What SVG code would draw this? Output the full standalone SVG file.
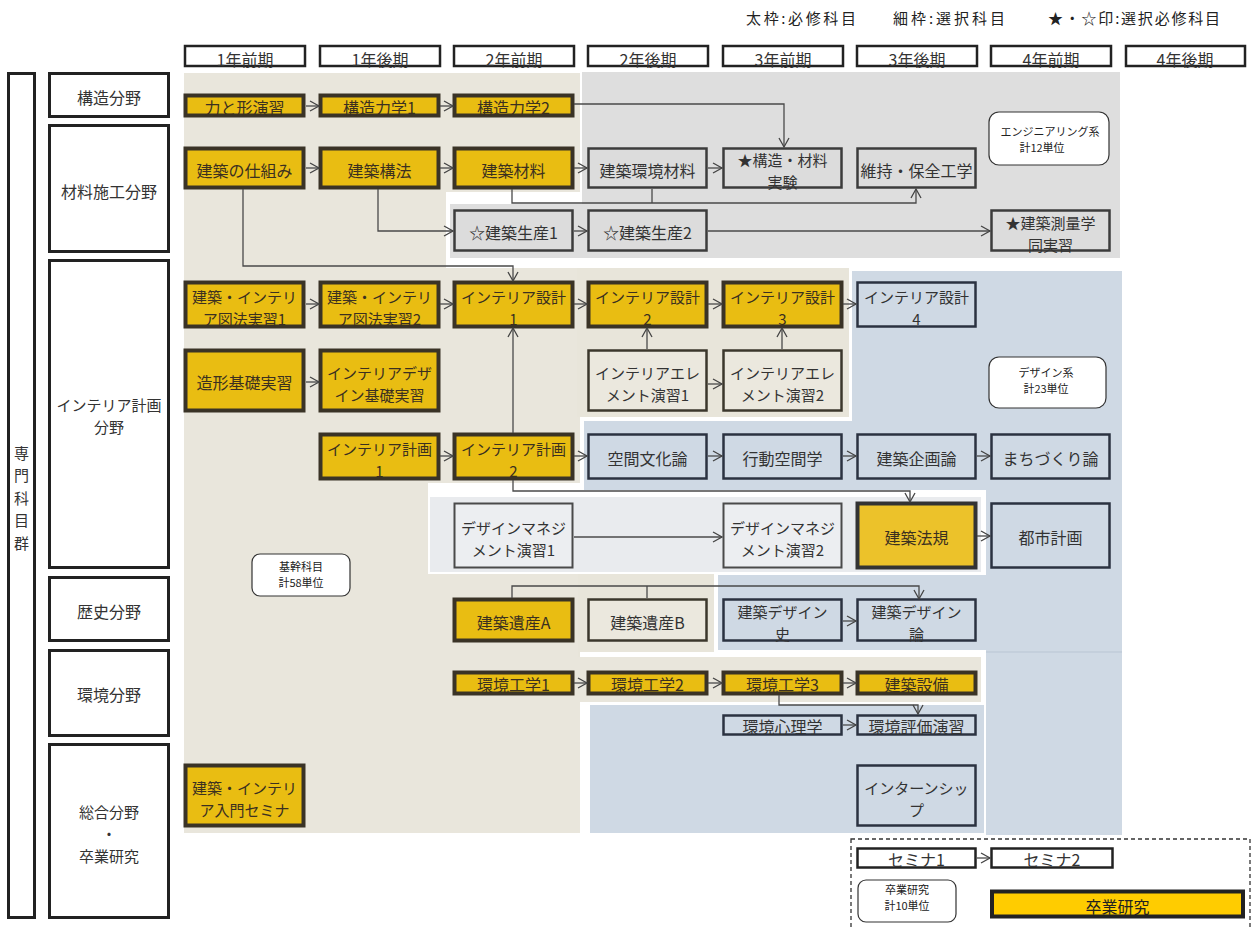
<svg xmlns="http://www.w3.org/2000/svg" width="1253" height="928" viewBox="0 0 1253 928">
<defs>
<style>
text{font-family:"Noto Sans CJK JP","Noto Sans CJK SC",sans-serif;font-size:16px;fill:#333;text-anchor:middle;dominant-baseline:central}
.t2{font-size:15px}
.ty{fill:#3b3020}
.sm{font-size:11px;fill:#222}
.lg{font-size:15px;text-anchor:start;fill:#222}
.v{font-size:15px}
.y{fill:#e9bd12;stroke:#3a3326;stroke-width:4}
.yl{fill:#ecc22a;stroke:#333;stroke-width:4}
.yf{fill:#ffcc00;stroke:#222;stroke-width:4}
.g{fill:#dcdcdc;stroke:#3c3c3c;stroke-width:2.5}
.b{fill:#cfd9e4;stroke:#2b3240;stroke-width:2.5}
.e{fill:#ebe8de;stroke:#3b372c;stroke-width:2.5}
.m{fill:#eceef1;stroke:#4a4a4a;stroke-width:2}
.w{fill:#fff;stroke:#222;stroke-width:2.5}
.cat{fill:#fff;stroke:#222;stroke-width:3}
.note{fill:#fff;stroke:#333;stroke-width:1.2}
.c{fill:none;stroke:#4a4a4a;stroke-width:1.3}
</style>
<marker id="ah" markerWidth="12" markerHeight="12" refX="10" refY="6" orient="auto" markerUnits="userSpaceOnUse">
<path d="M1,1 L10,6 L1,11" fill="none" stroke="#444" stroke-width="1.3"/>
</marker>
</defs>

<g id="backgrounds">
<rect x="184" y="73" width="396" height="760" fill="#e9e6dc"/>
<rect x="446" y="192" width="136" height="76" fill="#fff"/>
<path d="M582,72 H1120 V258 H450 V204 H582 Z" fill="#dedede"/>
<rect x="577" y="268" width="272" height="149" fill="#e8e5da"/>
<rect x="852" y="271" width="270" height="150" fill="#cfd9e4"/>
<rect x="428" y="483" width="558" height="91" fill="#fff"/>
<rect x="584" y="421" width="538" height="69" fill="#cfd9e4"/>
<rect x="986" y="490" width="136" height="345" fill="#cfd9e4"/>
<rect x="430" y="497" width="551" height="75" fill="#e9ebee"/>
<rect x="578" y="574" width="136" height="83" fill="#e8e5da"/>
<rect x="718" y="575" width="269" height="75" fill="#cfd9e4"/>
<rect x="580" y="652" width="406" height="53" fill="#fff"/>
<rect x="580" y="657" width="401" height="45" fill="#e9e6dc"/>
<rect x="590" y="705" width="394" height="128" fill="#cfd9e4"/>
<line x1="986" y1="652" x2="1122" y2="652" stroke="#b9c5d3" stroke-width="1"/>
</g>

<g id="legend">
<text class="lg" x="746" y="17" textLength="110" lengthAdjust="spacing">太枠:必修科目</text>
<text class="lg" x="893" y="17" textLength="112" lengthAdjust="spacing">細枠:選択科目</text>
<text class="lg" x="1048" y="17" textLength="172" lengthAdjust="spacing">★・☆印:選択必修科目</text>
</g>

<g id="headers">
<rect class="w" x="185" y="46" width="120" height="20"/><text x="245" y="59">1年前期</text>
<rect class="w" x="320" y="46" width="120" height="20"/><text x="380" y="59">1年後期</text>
<rect class="w" x="454" y="46" width="120" height="20"/><text x="514" y="59">2年前期</text>
<rect class="w" x="588" y="46" width="120" height="20"/><text x="648" y="59">2年後期</text>
<rect class="w" x="723" y="46" width="120" height="20"/><text x="783" y="59">3年前期</text>
<rect class="w" x="857" y="46" width="120" height="20"/><text x="917" y="59">3年後期</text>
<rect class="w" x="991" y="46" width="120" height="20"/><text x="1051" y="59">4年前期</text>
<rect class="w" x="1126" y="46" width="119" height="20"/><text x="1185" y="59">4年後期</text>
</g>

<g id="group-senmon">
<rect class="cat" x="8.5" y="73.5" width="26" height="844"/>
<text class="v" x="21.5" y="452">専</text>
<text class="v" x="21.5" y="474.5">門</text>
<text class="v" x="21.5" y="497">科</text>
<text class="v" x="21.5" y="519.5">目</text>
<text class="v" x="21.5" y="542">群</text>
</g>
<g id="cat-kouzou"><rect class="cat" x="49.5" y="73.5" width="119" height="43"/><text x="109" y="97">構造分野</text></g>
<g id="cat-zairyou"><rect class="cat" x="49.5" y="125.5" width="119" height="126"/><text x="109" y="191">材料施工分野</text></g>
<g id="cat-interior"><rect class="cat" x="49.5" y="260.5" width="119" height="307"/><text class="t2" x="109" y="404">インテリア計画</text><text class="t2" x="109" y="426">分野</text></g>
<g id="cat-rekishi"><rect class="cat" x="49.5" y="577.5" width="119" height="63"/><text x="109" y="611">歴史分野</text></g>
<g id="cat-kankyou"><rect class="cat" x="49.5" y="650.5" width="119" height="85"/><text x="109" y="694">環境分野</text></g>
<g id="cat-sougou"><rect class="cat" x="49.5" y="744.5" width="119" height="173"/><text class="t2" x="109" y="811">総合分野</text><text class="t2" x="109" y="833">・</text><text class="t2" x="109" y="855">卒業研究</text></g>

<g id="notes">
<g id="note-eng"><rect class="note" x="989" y="112" width="120" height="53" rx="10"/><text class="sm" x="1050" y="131">エンジニアリング系</text><text class="sm" x="1042" y="147">計12単位</text></g>
<g id="note-design"><rect class="note" x="989" y="357" width="117" height="51" rx="10"/><text class="sm" x="1046" y="372">デザイン系</text><text class="sm" x="1046" y="388">計23単位</text></g>
<g id="note-kikan"><rect class="note" x="252" y="554" width="98" height="42" rx="8"/><text class="sm" x="301" y="566">基幹科目</text><text class="sm" x="301" y="582">計58単位</text></g>
<g id="note-sotsu"><rect class="note" x="858" y="880" width="98" height="42" rx="8"/><text class="sm" x="907" y="889">卒業研究</text><text class="sm" x="907" y="905">計10単位</text></g>
</g>

<g id="n-chikara"><rect class="y" x="185.5" y="95.5" width="118" height="20"/><text class="ty" x="244.5" y="107">力と形演習</text></g>
<g id="n-kouzou1"><rect class="y" x="320.5" y="95.5" width="118" height="20"/><text class="ty" x="379.5" y="107">構造力学1</text></g>
<g id="n-kouzou2"><rect class="y" x="454.5" y="95.5" width="118" height="20"/><text class="ty" x="513.5" y="107">構造力学2</text></g>

<g id="n-shikumi"><rect class="y" x="185.5" y="148.5" width="118" height="39"/><text class="ty" x="244.5" y="170">建築の仕組み</text></g>
<g id="n-kouhou"><rect class="y" x="320.5" y="148.5" width="118" height="39"/><text class="ty" x="379.5" y="170">建築構法</text></g>
<g id="n-zairyou"><rect class="y" x="454.5" y="148.5" width="118" height="39"/><text class="ty" x="513.5" y="170">建築材料</text></g>
<g id="n-kankyouzai"><rect class="g" x="588.5" y="148.5" width="118" height="39"/><text x="647.5" y="170">建築環境材料</text></g>
<g id="n-jikken"><rect class="g" x="723.5" y="148.5" width="118" height="39"/><text class="t2" x="782.5" y="159">★構造・材料</text><text class="t2" x="782.5" y="181">実験</text></g>
<g id="n-iji"><rect class="g" x="857.5" y="148.5" width="118" height="39"/><text x="916.5" y="170">維持・保全工学</text></g>

<g id="n-seisan1"><rect class="g" x="454.5" y="210.5" width="118" height="40"/><text x="513.5" y="232">☆建築生産1</text></g>
<g id="n-seisan2"><rect class="g" x="588.5" y="210.5" width="118" height="40"/><text x="647.5" y="232">☆建築生産2</text></g>
<g id="n-sokuryou"><rect class="g" x="991.5" y="210.5" width="118" height="40"/><text class="t2" x="1050.5" y="222">★建築測量学</text><text class="t2" x="1050.5" y="244">同実習</text></g>

<g id="n-zuhou1"><rect class="y" x="185.5" y="282.5" width="118" height="44"/><text class="ty t2" x="244.5" y="296">建築・インテリ</text><text class="ty t2" x="244.5" y="318">ア図法実習1</text></g>
<g id="n-zuhou2"><rect class="y" x="320.5" y="282.5" width="118" height="44"/><text class="ty t2" x="379.5" y="296">建築・インテリ</text><text class="ty t2" x="379.5" y="318">ア図法実習2</text></g>
<g id="n-sekkei1"><rect class="y" x="454.5" y="282.5" width="118" height="44"/><text class="ty t2" x="513.5" y="296">インテリア設計</text><text class="ty t2" x="513.5" y="318">1</text></g>
<g id="n-sekkei2"><rect class="y" x="588.5" y="282.5" width="118" height="44"/><text class="ty t2" x="647.5" y="296">インテリア設計</text><text class="ty t2" x="647.5" y="318">2</text></g>
<g id="n-sekkei3"><rect class="y" x="723.5" y="282.5" width="118" height="44"/><text class="ty t2" x="782.5" y="296">インテリア設計</text><text class="ty t2" x="782.5" y="318">3</text></g>
<g id="n-sekkei4"><rect class="b" x="857.5" y="282.5" width="118" height="44"/><text class="t2" x="916.5" y="296">インテリア設計</text><text class="t2" x="916.5" y="318">4</text></g>

<g id="n-zoukei"><rect class="y" x="185.5" y="350.5" width="118" height="60"/><text class="ty" x="244.5" y="382">造形基礎実習</text></g>
<g id="n-idkiso"><rect class="y" x="320.5" y="350.5" width="118" height="60"/><text class="ty t2" x="379.5" y="372">インテリアデザ</text><text class="ty t2" x="379.5" y="394">イン基礎実習</text></g>
<g id="n-element1"><rect class="e" x="588.5" y="350.5" width="118" height="60"/><text class="t2" x="647.5" y="372">インテリアエレ</text><text class="t2" x="647.5" y="394">メント演習1</text></g>
<g id="n-element2"><rect class="e" x="723.5" y="350.5" width="118" height="60"/><text class="t2" x="782.5" y="372">インテリアエレ</text><text class="t2" x="782.5" y="394">メント演習2</text></g>

<g id="n-keikaku1"><rect class="y" x="320.5" y="434.5" width="118" height="44"/><text class="ty t2" x="379.5" y="448">インテリア計画</text><text class="ty t2" x="379.5" y="470">1</text></g>
<g id="n-keikaku2"><rect class="y" x="454.5" y="434.5" width="118" height="44"/><text class="ty t2" x="513.5" y="448">インテリア計画</text><text class="ty t2" x="513.5" y="470">2</text></g>
<g id="n-kukan"><rect class="b" x="588.5" y="434.5" width="118" height="44"/><text x="647.5" y="458">空間文化論</text></g>
<g id="n-koudou"><rect class="b" x="723.5" y="434.5" width="118" height="44"/><text x="782.5" y="458">行動空間学</text></g>
<g id="n-kikaku"><rect class="b" x="857.5" y="434.5" width="118" height="44"/><text x="916.5" y="458">建築企画論</text></g>
<g id="n-machi"><rect class="b" x="991.5" y="434.5" width="118" height="44"/><text x="1050.5" y="458">まちづくり論</text></g>

<g id="n-manage1"><rect class="m" x="454.5" y="503.5" width="118" height="64"/><text class="t2" x="513.5" y="527">デザインマネジ</text><text class="t2" x="513.5" y="549">メント演習1</text></g>
<g id="n-manage2"><rect class="m" x="723.5" y="503.5" width="118" height="64"/><text class="t2" x="782.5" y="527">デザインマネジ</text><text class="t2" x="782.5" y="549">メント演習2</text></g>
<g id="n-houki"><rect class="yl" x="857.5" y="503.5" width="118" height="64"/><text class="ty" x="916.5" y="537">建築法規</text></g>
<g id="n-toshi"><rect class="b" x="991.5" y="503.5" width="118" height="64"/><text x="1050.5" y="537">都市計画</text></g>

<g id="n-isanA"><rect class="y" x="454.5" y="599.5" width="118" height="41"/><text class="ty" x="513.5" y="622">建築遺産A</text></g>
<g id="n-isanB"><rect class="e" x="588.5" y="599.5" width="118" height="41"/><text x="647.5" y="622">建築遺産B</text></g>
<g id="n-dshi"><rect class="b" x="723.5" y="599.5" width="118" height="41"/><text class="t2" x="782.5" y="611">建築デザイン</text><text class="t2" x="782.5" y="633">史</text></g>
<g id="n-dron"><rect class="b" x="857.5" y="599.5" width="118" height="41"/><text class="t2" x="916.5" y="611">建築デザイン</text><text class="t2" x="916.5" y="633">論</text></g>

<g id="n-kankyou1"><rect class="y" x="454.5" y="672.5" width="118" height="21"/><text class="ty" x="513.5" y="684">環境工学1</text></g>
<g id="n-kankyou2"><rect class="y" x="588.5" y="672.5" width="118" height="21"/><text class="ty" x="647.5" y="684">環境工学2</text></g>
<g id="n-kankyou3"><rect class="y" x="723.5" y="672.5" width="118" height="21"/><text class="ty" x="782.5" y="684">環境工学3</text></g>
<g id="n-setsubi"><rect class="y" x="857.5" y="672.5" width="118" height="21"/><text class="ty" x="916.5" y="684">建築設備</text></g>

<g id="n-shinri"><rect class="b" x="723.5" y="715.5" width="118" height="19"/><text x="782.5" y="726">環境心理学</text></g>
<g id="n-hyouka"><rect class="b" x="857.5" y="715.5" width="118" height="19"/><text x="916.5" y="726">環境評価演習</text></g>

<g id="n-intern"><rect class="b" x="857.5" y="765.5" width="118" height="60"/><text class="t2" x="916.5" y="787">インターンシッ</text><text class="t2" x="916.5" y="809">プ</text></g>
<g id="n-nyumon"><rect class="y" x="185.5" y="765.5" width="118" height="60"/><text class="ty t2" x="244.5" y="787">建築・インテリ</text><text class="ty t2" x="244.5" y="809">ア入門セミナ</text></g>

<g id="sotsuken-area">
<rect x="851" y="839" width="399" height="100" fill="none" stroke="#333" stroke-width="1.3" stroke-dasharray="4,3"/>
</g>
<g id="n-semi1"><rect class="w" x="857.5" y="848.5" width="118" height="19"/><text x="916.5" y="859">セミナ1</text></g>
<g id="n-semi2"><rect class="w" x="991.5" y="848.5" width="121" height="19"/><text x="1052" y="859">セミナ2</text></g>
<g id="n-sotsuken"><rect class="yf" x="992" y="891.5" width="251" height="25"/><text x="1117.5" y="906" style="fill:#222">卒業研究</text></g>

<g id="connectors">
<path class="c" marker-end="url(#ah)" d="M306,106 H319"/>
<path class="c" marker-end="url(#ah)" d="M440,106 H453"/>
<path class="c" marker-end="url(#ah)" d="M574,104 H784 V147"/>
<path class="c" marker-end="url(#ah)" d="M306,168 H319"/>
<path class="c" marker-end="url(#ah)" d="M440,168 H453"/>
<path class="c" marker-end="url(#ah)" d="M574,168 H587"/>
<path class="c" marker-end="url(#ah)" d="M708,168 H722"/>
<path class="c" marker-end="url(#ah)" d="M512,189 V203 H916 V189"/>
<path class="c" d="M652,189 V203"/>
<path class="c" marker-end="url(#ah)" d="M378,189 V231 H453"/>
<path class="c" marker-end="url(#ah)" d="M574,231 H587"/>
<path class="c" marker-end="url(#ah)" d="M708,231 H990"/>
<path class="c" marker-end="url(#ah)" d="M243,189 V266 H513 V281"/>
<path class="c" marker-end="url(#ah)" d="M306,304 H319"/>
<path class="c" marker-end="url(#ah)" d="M440,304 H453"/>
<path class="c" marker-end="url(#ah)" d="M574,304 H587"/>
<path class="c" marker-end="url(#ah)" d="M708,304 H722"/>
<path class="c" marker-end="url(#ah)" d="M843,304 H856"/>
<path class="c" marker-end="url(#ah)" d="M306,382 H319"/>
<path class="c" marker-end="url(#ah)" d="M647,349 V328"/>
<path class="c" marker-end="url(#ah)" d="M782,349 V328"/>
<path class="c" marker-end="url(#ah)" d="M708,384 H722"/>
<path class="c" marker-end="url(#ah)" d="M440,456 H453"/>
<path class="c" marker-end="url(#ah)" d="M574,456 H587"/>
<path class="c" marker-end="url(#ah)" d="M708,456 H722"/>
<path class="c" marker-end="url(#ah)" d="M843,456 H856"/>
<path class="c" marker-end="url(#ah)" d="M977,456 H990"/>
<path class="c" marker-end="url(#ah)" d="M513,433 V328"/>
<path class="c" marker-end="url(#ah)" d="M513,480 V491 H910 V502"/>
<path class="c" marker-end="url(#ah)" d="M574,537 H722"/>
<path class="c" marker-end="url(#ah)" d="M977,536 H990"/>
<path class="c" marker-end="url(#ah)" d="M512,598 V586 H919 V599"/>
<path class="c" d="M647,598 V586"/>
<path class="c" marker-end="url(#ah)" d="M843,621 H856"/>
<path class="c" marker-end="url(#ah)" d="M574,683 H587"/>
<path class="c" marker-end="url(#ah)" d="M708,683 H722"/>
<path class="c" marker-end="url(#ah)" d="M843,683 H856"/>
<path class="c" marker-end="url(#ah)" d="M779,695 V705 H918 V714"/>
<path class="c" marker-end="url(#ah)" d="M843,725 H856"/>
<path class="c" marker-end="url(#ah)" d="M977,858 H990"/>
</g>
</svg>
